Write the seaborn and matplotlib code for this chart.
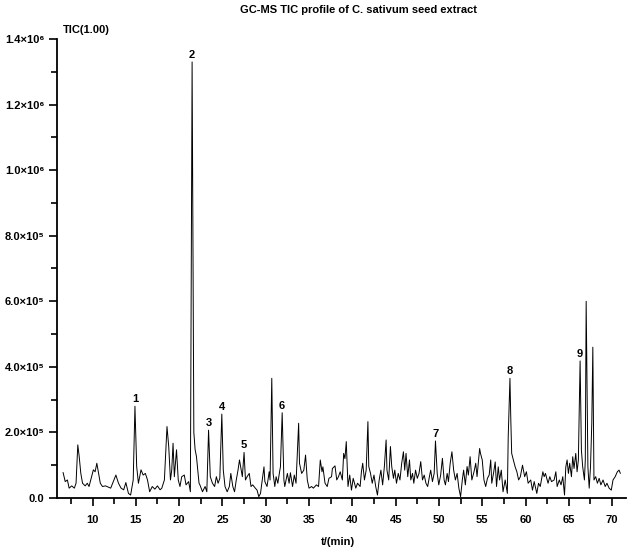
import numpy as np
import pandas as pd
import matplotlib
matplotlib.use("Agg")
import matplotlib.pyplot as plt
import seaborn as sns
from matplotlib.ticker import MultipleLocator

# ---- data (time in min, TIC in units of 1e5 counts) ----
times = [
    6.6, 6.85, 7.1, 7.3, 7.6, 7.9, 8.1, 8.3, 8.46, 8.65, 8.85, 9.15, 9.4, 9.6, 9.9,
    10.1, 10.3, 10.5, 10.7, 10.9, 11.15, 11.5, 11.85, 12.1, 12.4, 12.7, 13.0, 13.3,
    13.6, 13.85, 14.15, 14.4, 14.7, 14.9, 15.1, 15.3, 15.6, 15.85, 16.1, 16.35, 16.6,
    16.9, 17.2, 17.5, 17.8, 18.0, 18.3, 18.6, 18.8, 19.0, 19.15, 19.3, 19.45, 19.6,
    19.7, 19.9, 20.1, 20.3, 20.6, 20.8, 21.1, 21.3, 21.5, 21.7, 21.85, 22.0, 22.3,
    22.4, 22.7, 23.0, 23.2, 23.4, 23.6, 23.85, 24.1, 24.3, 24.5, 24.7, 24.93, 25.1,
    25.3, 25.55, 25.8, 25.97, 26.2, 26.4, 26.6, 26.8, 26.97, 27.2, 27.3, 27.5, 27.66,
    27.85, 28.1, 28.3, 28.5, 28.8, 29.0, 29.2, 29.4, 29.5, 29.8, 29.9, 30.15, 30.4,
    30.5, 30.7, 30.85, 31.05, 31.2, 31.4, 31.6, 31.7, 31.9, 32.1, 32.2, 32.5, 32.7,
    32.85, 33.1, 33.3, 33.5, 33.8, 33.9, 34.15, 34.4, 34.6, 34.8, 35.0, 35.3, 35.5,
    35.85, 36.1, 36.3, 36.5, 36.6, 36.85, 37.1, 37.3, 37.6, 37.7, 38.0, 38.2, 38.4,
    38.6, 38.85, 39.0, 39.15, 39.3, 39.5,
    39.7, 39.9, 40.1, 40.4, 40.6, 40.9, 41.05, 41.2, 41.4, 41.6, 41.8, 41.9, 42.1,
    42.3, 42.5, 42.7, 42.9, 43.1, 43.3, 43.5, 43.7, 43.9, 44.0, 44.2, 44.4, 44.55,
    44.75, 44.9, 45.1, 45.3, 45.5, 45.7, 45.9, 46.05, 46.2, 46.4, 46.6, 46.75, 46.95,
    47.1, 47.3, 47.5, 47.7, 47.9, 48.1, 48.3, 48.5, 48.7, 48.9, 49.05, 49.25, 49.45,
    49.6, 49.8, 49.98, 50.2, 50.4, 50.6, 50.75, 50.95, 51.1, 51.3, 51.5, 51.7, 51.9,
    52.1, 52.3, 52.5, 52.7, 52.85, 53.05, 53.25, 53.4, 53.6, 53.8, 54.05, 54.25, 54.4,
    54.7, 54.8, 55.0, 55.2, 55.4, 55.6, 55.8, 55.98,
    56.1, 56.3, 56.5, 56.65, 56.85, 57.0, 57.2, 57.4, 57.65, 57.9, 58.0, 58.2, 58.3,
    58.4, 58.6, 58.8, 59.0, 59.2, 59.4, 59.65, 59.9, 60.1, 60.3, 60.6, 60.8, 61.0,
    61.3, 61.5, 61.7, 62.0, 62.15, 62.3, 62.6, 62.8, 63.0, 63.3, 63.5, 63.65, 63.9,
    64.1, 64.3, 64.5, 64.65, 64.8, 64.95, 65.1, 65.3, 65.45, 65.6, 65.8, 65.95, 66.1,
    66.3, 66.45, 66.6, 66.8, 66.9, 67.0, 67.2, 67.35, 67.5, 67.65, 67.77, 67.9, 68.1,
    68.3, 68.5, 68.7, 68.95, 69.2, 69.4, 69.65, 69.9, 70.1, 70.35, 70.6, 70.8, 70.95,
]
tic_e5 = [
    0.78, 0.5, 0.55, 0.3, 0.37, 0.3, 0.45, 1.62, 1.27, 0.75, 0.45, 0.37, 0.45, 0.35, 0.65,
    0.86, 0.8, 1.06, 0.75, 0.45, 0.35, 0.37, 0.33, 0.3, 0.5, 0.7, 0.45, 0.3,
    0.25, 0.47, 0.14, 0.09, 0.55, 2.8, 0.96, 0.45, 0.86, 0.7, 0.75, 0.55, 0.19,
    0.35, 0.27, 0.37, 0.25, 0.3, 0.55, 2.18, 1.57, 0.55, 0.86, 1.67, 0.65, 1.16,
    1.47, 0.55, 0.35, 0.65, 0.7, 0.4, 0.5, 0.19, 13.3, 2.0, 1.47, 1.27, 0.45,
    0.4, 0.19, 0.35, 0.19, 2.07, 0.65, 0.45, 0.35, 0.65, 0.45, 0.6, 2.56, 0.85,
    0.35, 0.19, 0.35, 0.75, 0.35, 0.19, 0.55, 0.85, 1.16, 0.8, 0.65, 1.39, 0.55,
    0.65, 0.75, 0.35, 0.4, 0.3, 0.24, 0.04, 0.14, 0.35, 0.95, 0.5, 0.35, 0.8,
    0.55, 3.65, 0.75, 0.35, 0.65, 0.45, 0.8, 0.95, 2.6, 0.55, 0.35, 0.75, 0.45,
    0.77, 0.35, 0.7, 0.45, 2.28, 1.06, 0.75, 0.85, 1.31, 0.55, 0.3, 0.35, 0.3,
    0.4, 0.35, 1.16, 0.8, 0.95, 0.45, 0.35, 0.6, 0.65, 0.9, 0.98, 0.55, 0.65,
    0.8, 0.55, 1.36, 1.2, 1.72, 0.35,
    0.7, 0.24, 0.6, 0.3, 0.45, 0.35, 0.8, 1.06, 0.55, 0.85, 2.33, 0.96, 0.75,
    0.45, 0.7, 0.35, 0.09, 0.55, 0.85, 0.4, 0.96, 1.77, 0.85, 0.55, 1.57, 0.96,
    0.6, 0.85, 0.45, 0.75, 0.55, 1.06, 1.41, 0.85, 1.36, 0.65, 1.16, 0.55, 0.75,
    0.45, 0.85, 0.6, 0.75, 1.11, 0.55, 0.7, 0.45, 0.35, 0.65, 0.85, 0.5, 0.75,
    1.74, 0.75, 0.4, 0.7, 1.21, 0.55, 0.4, 0.75, 0.5, 1.06, 1.41, 0.85, 0.55,
    0.75, 0.3, 0.04, 0.55, 0.85, 0.4, 0.96, 0.7, 1.26, 0.55, 0.8, 1.06, 0.65,
    1.51, 1.36, 1.16, 0.55, 0.35, 0.6, 0.7, 1.16,
    0.45, 0.75, 1.1, 0.35, 0.95, 0.55, 0.85, 0.19, 0.55, 0.14, 1.87, 3.65, 2.38,
    1.36, 1.16, 0.95, 0.8, 0.55, 0.65, 1.0, 0.65, 0.8, 0.45, 0.55, 0.24, 0.5,
    0.14, 0.45, 0.35, 0.8, 0.65, 0.75, 0.45, 0.65, 0.5, 0.55, 0.8, 0.35, 0.55,
    0.4, 0.65, 0.09, 0.95, 1.16, 0.75, 1.06, 0.65, 1.26, 0.9, 1.36, 0.8, 1.16,
    4.18, 1.46, 0.95, 0.55, 1.16, 6.0, 0.95, 0.3, 0.95, 2.28, 4.6, 0.55, 0.65,
    0.45, 0.6, 0.4, 0.55, 0.35, 0.45, 0.3, 0.24, 0.55, 0.65, 0.8, 0.85, 0.75,
]

peak_labels = ["1", "2", "3", "4", "5", "6", "7", "8", "9"]
peak_times = [14.9, 21.5, 23.4, 24.93, 27.5, 31.9, 49.6, 58.2, 66.3]

x_ticks = [10, 15, 20, 25, 30, 35, 40, 45, 50, 55, 60, 65, 70]
y_ticks = [0, 2e5, 4e5, 6e5, 8e5, 1e6, 1.2e6, 1.4e6]
y_tick_labels = ["0.0", "2.0×10⁵", "4.0×10⁵", "6.0×10⁵", "8.0×10⁵",
                 "1.0×10⁶", "1.2×10⁶", "1.4×10⁶"]

title = "GC-MS TIC profile of C. sativum seed extract"
x_label = "t/(min)"
corner_label = "TIC(1.00)"

# ---- plotting ----
sns.set_theme(style="ticks")
plt.rcParams["font.family"] = ["Liberation Sans", "DejaVu Sans"]
plt.rcParams["font.weight"] = "bold"

df = pd.DataFrame({"t": times, "tic": np.array(tic_e5) * 1e5})

fig = plt.figure(figsize=(6.29, 5.5), dpi=100)
ax = fig.add_axes([57 / 629, 52 / 550, 569 / 629, 459 / 550])

sns.lineplot(data=df, x="t", y="tic", color="black", linewidth=0.7, ax=ax)

ax.set_xlim(5.9, 71.6)
ax.set_ylim(0, 1.4e6)

ax.set_xticks(x_ticks)
ax.set_xticklabels([str(v) for v in x_ticks])
ax.xaxis.set_minor_locator(MultipleLocator(2.5))
ax.set_yticks(y_ticks)
ax.set_yticklabels(y_tick_labels)
ax.yaxis.set_minor_locator(MultipleLocator(1e5))

sns.despine(ax=ax)
for s in ["left", "bottom"]:
    ax.spines[s].set_linewidth(1.3)
    ax.spines[s].set_color("black")

ax.tick_params(axis="both", which="major", direction="out", length=6, width=1.2,
               colors="black", labelsize=8)
ax.tick_params(axis="both", which="minor", direction="out", length=4, width=1.2,
               colors="black")
ax.tick_params(axis="x", which="major", pad=6)
ax.tick_params(axis="y", which="major", pad=3)
for lab in ax.get_xticklabels() + ax.get_yticklabels():
    lab.set_fontweight("bold")

ax.set_xlabel(x_label, fontsize=8, fontweight="bold", color="black")
ax.xaxis.set_label_coords(0.494, -0.086)
ax.set_ylabel("")

# peak number labels
for lab, pt in zip(peak_labels, peak_times):
    sel = df[(df["t"] - pt).abs() < 0.08]
    top = sel["tic"].max()
    ax.annotate(lab, xy=(pt, top), xytext=(0, 1.5), textcoords="offset points",
                ha="center", va="bottom", fontsize=8, fontweight="bold", color="black")

fig.text(358 / 629, 1 - 10 / 550, title, ha="center", va="center",
         fontsize=8, fontweight="bold", color="black")
fig.text(63 / 629, 1 - 30 / 550, corner_label, ha="left", va="center",
         fontsize=8, fontweight="bold", color="black")

fig.savefig("out.png", dpi=100)
